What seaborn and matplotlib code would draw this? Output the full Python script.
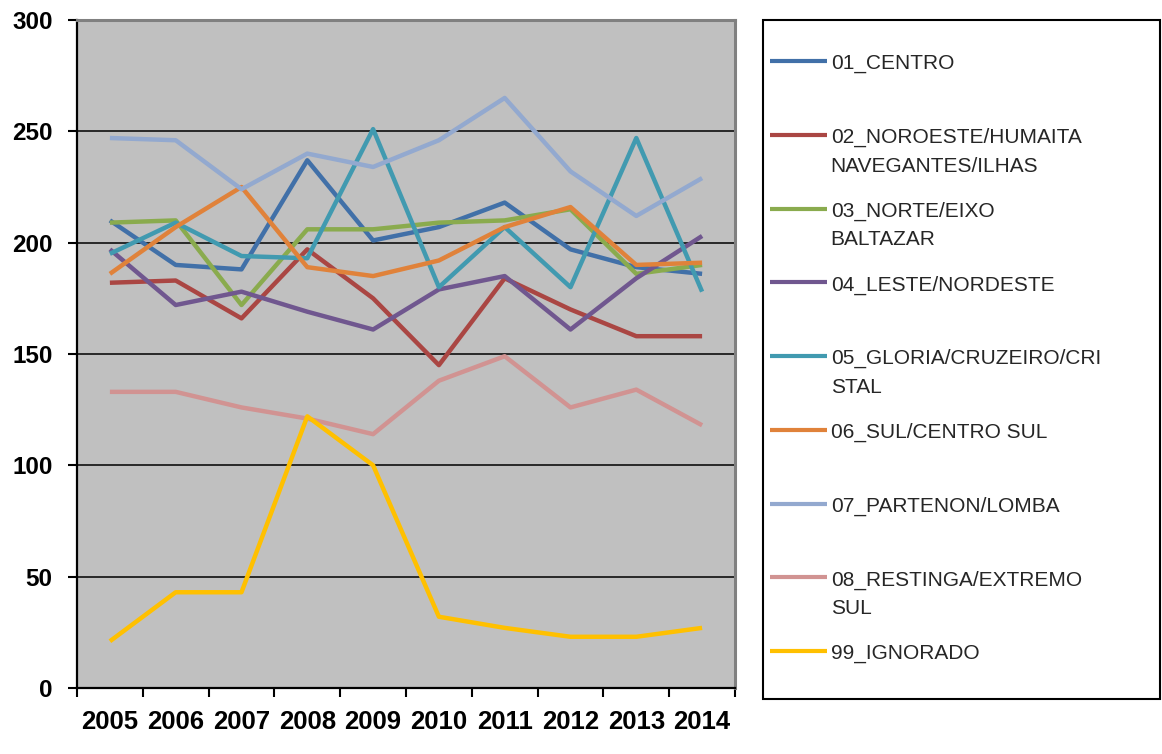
import numpy as np
import pandas as pd
import matplotlib
matplotlib.use("Agg")
import matplotlib.pyplot as plt
from matplotlib.legend_handler import HandlerLine2D
import seaborn as sns

# dados
anos = [2005, 2006, 2007, 2008, 2009, 2010, 2011, 2012, 2013, 2014]

centro = [210, 190, 188, 237, 201, 207, 218, 197, 189, 186]
noroeste = [182, 183, 166, 197, 175, 145, 184, 170, 158, 158]
norte = [209, 210, 172, 206, 206, 209, 210, 215, 186, 190]
leste = [197, 172, 178, 169, 161, 179, 185, 161, 184, 203]
gloria = [195, 209, 194, 193, 251, 180, 207, 180, 247, 178]
sul = [186, 207, 225, 189, 185, 192, 207, 216, 190, 191]
partenon = [247, 246, 224, 240, 234, 246, 265, 232, 212, 229]
restinga = [133, 133, 126, 121, 114, 138, 149, 126, 134, 118]
ignorado = [21, 43, 43, 122, 100, 32, 27, 23, 23, 27]

regioes = ["01_CENTRO\n ", "02_NOROESTE/HUMAITA\nNAVEGANTES/ILHAS", "03_NORTE/EIXO\nBALTAZAR",
           "04_LESTE/NORDESTE\n ", "05_GLORIA/CRUZEIRO/CRI\nSTAL", "06_SUL/CENTRO SUL\n ",
           "07_PARTENON/LOMBA\n ", "08_RESTINGA/EXTREMO\nSUL", "99_IGNORADO\n "]
series = [centro, noroeste, norte, leste, gloria, sul, partenon, restinga, ignorado]
cores = ["#4170A8", "#AA4643", "#8AAB4E", "#70578F", "#419AB0", "#E0823A",
         "#93A9CF", "#D19392", "#FFC000"]
rotulos_x = [str(a) for a in anos]
ticks_y = [0, 50, 100, 150, 200, 250, 300]

df = pd.DataFrame({
    "ano": anos * len(series),
    "valor": sum(series, []),
    "regiao": [r for r in regioes for _ in anos],
})

sns.set_style("white")
plt.rcParams["font.family"] = ["Liberation Sans", "DejaVu Sans"]


class HandlerPrimeiraLinha(HandlerLine2D):
    # coloca a linha da legenda na altura da primeira linha do texto
    def create_artists(self, legend, orig_handle, xdescent, ydescent, width, height, fontsize, trans):
        arts = super().create_artists(legend, orig_handle, xdescent, ydescent, width, height, fontsize, trans)
        for a in arts:
            a.set_ydata(np.asarray(a.get_ydata()) + 0.81 * fontsize)
        return arts


fig = plt.figure(figsize=(11.62, 7.54), dpi=100)
ax = fig.add_axes([77 / 1162, 1 - 688 / 754, (735 - 77) / 1162, (688 - 20) / 754])
ax.set_facecolor("#C0C0C0")

sns.lineplot(data=df, x="ano", y="valor", hue="regiao", hue_order=regioes, palette=cores,
             linewidth=3.2, legend=False, sort=False, ax=ax, solid_joinstyle="round",
             solid_capstyle="butt")

ax.set_xlim(anos[0] - 0.5, anos[-1] + 0.5)
ax.set_ylim(0, 300)
ax.set_xlabel("")
ax.set_ylabel("")

ax.set_yticks(ticks_y)
ax.set_yticklabels([str(t) for t in ticks_y])
ax.set_xticks([a - 0.5 for a in anos] + [anos[-1] + 0.5])
ax.set_xticklabels([])
ax.set_xticks(anos, minor=True)
ax.set_xticklabels(rotulos_x, minor=True)

ax.tick_params(axis="x", which="major", direction="out", length=6.5, width=1.5, color="black", bottom=True)
ax.tick_params(axis="x", which="minor", length=0, pad=16, labelsize=18.5, bottom=True)
ax.tick_params(axis="y", direction="out", length=6.5, width=1.5, color="black", pad=11,
               labelsize=17.5, left=True)
for lab in ax.get_xticklabels(minor=True) + ax.get_yticklabels():
    lab.set_fontweight("bold")
    lab.set_color("black")

ax.yaxis.grid(True, color="black", linewidth=1.1)
ax.xaxis.grid(False)
ax.set_axisbelow(True)
for lado in ["left", "bottom"]:
    ax.spines[lado].set_color("black")
    ax.spines[lado].set_linewidth(1.6)
for lado in ["top", "right"]:
    ax.spines[lado].set_color("#808080")
    ax.spines[lado].set_linewidth(2.2)

linhas = ax.get_lines()[:len(regioes)]
leg = ax.legend(linhas, regioes, handler_map={l: HandlerPrimeiraLinha() for l in linhas},
                loc="upper left", bbox_to_anchor=(763 / 1162, 1 - 20 / 754, (1160 - 763) / 1162, 0.0),
                bbox_transform=fig.transFigure, mode="expand", borderaxespad=0,
                fancybox=False, frameon=True, edgecolor="black", framealpha=1,
                fontsize=15, handlelength=2.7, handletextpad=0.2, borderpad=0.35,
                labelspacing=1.25, title=" ", title_fontsize=1)
leg.get_frame().set_linewidth(1.5)
for t in leg.get_texts():
    t.set_linespacing(1.63)
for l in leg.get_lines():
    l.set_linewidth(3)

fig.savefig("out.png", dpi=100)
